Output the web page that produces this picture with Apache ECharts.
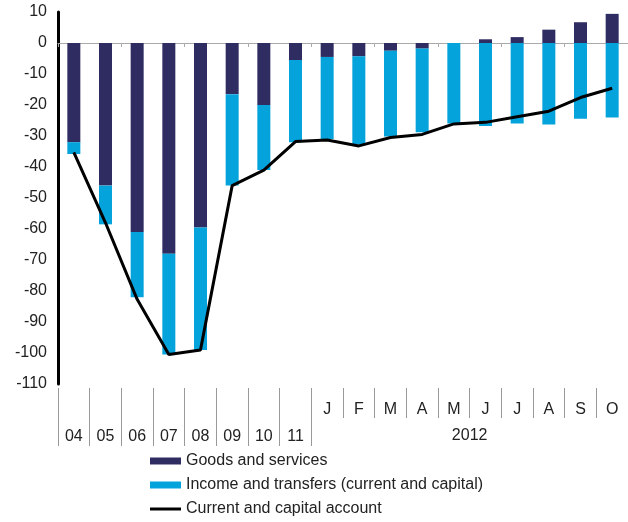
<!DOCTYPE html>
<html>
<head>
<meta charset="utf-8">
<script src="https://cdn.jsdelivr.net/npm/echarts@6/dist/echarts.min.js"></script>
<style>
  html, body { margin: 0; padding: 0; background: #fff; }
  #chart { width: 628px; height: 522px; }
</style>
</head>
<body>
<div id="chart"></div>
<script>
// periods: years 2004-2011, then months of 2012
var periods = ['2004', '2005', '2006', '2007', '2008', '2009', '2010', '2011',
  '2012-01', '2012-02', '2012-03', '2012-04', '2012-05', '2012-06', '2012-07', '2012-08', '2012-09', '2012-10'];
var yearLabels = ['04', '05', '06', '07', '08', '09', '10', '11', '', '', '', '', '', '', '', '', '', ''];
var monthLabels = ['', '', '', '', '', '', '', '', 'J', 'F', 'M', 'A', 'M', 'J', 'J', 'A', 'S', 'O'];
var yearOf2012 = '2012';

var goods = [-32, -46, -61, -68, -59.5, -16.5, -20, -5.5, -4.5, -4.3, -2.5, -1.8, 0, 1.2, 1.9, 4.3, 6.7, 9.4];
var income = [-3.8, -12.5, -21, -32.5, -39.5, -29.5, -21, -26.5, -26.5, -28.5, -27.7, -27, -26, -26.8, -26, -26.3, -24.4, -24];
var account = [-35.3, -58, -82.7, -100.5, -99, -46, -41, -31.8, -31.3, -33.2, -30.5, -29.5, -26.1, -25.6, -23.8, -22, -17.6, -14.6];

var FONT = 'Liberation Sans, Arial, sans-serif';
var chart = echarts.init(document.getElementById('chart'));

var option = {
  animation: false,
  grid: { left: 58, right: 0, top: 12, bottom: 138, containLabel: false },
  legend: {
    orient: 'vertical',
    left: 150,
    top: 453,
    padding: 0,
    itemWidth: 31,
    itemHeight: 7,
    itemGap: 8,
    textStyle: { fontFamily: FONT, fontSize: 16, color: '#222', lineHeight: 16 },
    data: [
      { name: 'Goods and services', icon: 'rect' },
      { name: 'Income and transfers (current and capital)', icon: 'rect' },
      { name: 'Current and capital account', icon: 'path://M0,0h31v3h-31z' }
    ]
  },
  xAxis: [
    {
      // zero line with small ticks
      type: 'category',
      data: periods,
      axisLine: { onZero: true, lineStyle: { color: '#aaa', width: 1 } },
      axisTick: { show: true, length: 4, lineStyle: { color: '#aaa' } },
      axisLabel: { show: false }
    },
    {
      // months row
      type: 'category',
      data: periods,
      position: 'bottom',
      offset: 4,
      axisLine: { show: false, onZero: false },
      axisTick: { show: true, length: 30, lineStyle: { color: '#999' } },
      axisLabel: {
        margin: 14,
        fontFamily: FONT, fontSize: 16, color: '#222',
        formatter: function (v, i) { return monthLabels[i]; }
      }
    },
    {
      // years row
      type: 'category',
      data: periods,
      position: 'bottom',
      offset: 4,
      axisLine: { show: false, onZero: false },
      axisTick: {
        show: true, length: 58, lineStyle: { color: '#999' },
        interval: function (i) { return i <= 8; }
      },
      axisLabel: {
        margin: 41,
        fontFamily: FONT, fontSize: 16, color: '#222',
        formatter: function (v, i) { return yearLabels[i]; }
      }
    }
  ],
  yAxis: {
    type: 'value',
    min: -110,
    max: 10,
    interval: 10,
    axisLine: { show: true, lineStyle: { color: '#000', width: 3 } },
    axisTick: { show: false },
    splitLine: { show: false },
    axisLabel: { margin: 11, fontFamily: FONT, fontSize: 16, color: '#222' }
  },
  series: [
    {
      name: 'Goods and services',
      type: 'bar',
      stack: 'total',
      barWidth: 13,
      itemStyle: { color: '#2f2c62' },
      data: goods
    },
    {
      name: 'Income and transfers (current and capital)',
      type: 'bar',
      stack: 'total',
      barWidth: 13,
      itemStyle: { color: '#04a3dc' },
      data: income
    },
    {
      name: 'Current and capital account',
      type: 'line',
      symbol: 'none',
      z: 5,
      lineStyle: { color: '#000', width: 3 },
      itemStyle: { color: '#000' },
      data: account
    }
  ]
};

chart.setOption(option);

// "2012" centred under the months block
var x1 = chart.convertToPixel({ xAxisIndex: 0 }, periods[8]);
var x2 = chart.convertToPixel({ xAxisIndex: 0 }, periods[periods.length - 1]);
var yBottom = chart.convertToPixel({ yAxisIndex: 0 }, -110);
chart.setOption({
  graphic: [{
    type: 'text',
    x: (x1 + x2) / 2,
    y: yBottom + 52,
    style: {
      text: yearOf2012,
      font: '16px ' + FONT,
      fill: '#222',
      align: 'center',
      verticalAlign: 'middle'
    }
  }]
});
</script>
</body>
</html>
